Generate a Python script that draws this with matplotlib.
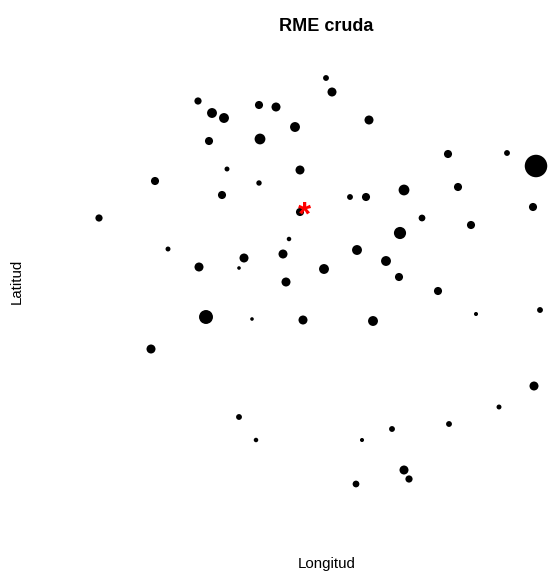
import matplotlib.pyplot as plt

# Posiciones de los municipios (unidades del dibujo) y RME cruda
longitud = [198, 212, 224, 259, 276, 295, 209, 260, 227, 300, 155, 259, 222, 99, 300,
            326, 332, 369, 448, 507, 536, 458, 404, 366, 350, 533, 422, 471, 400,
            168, 289, 244, 283, 199, 239, 286, 206, 252, 303, 151,
            357, 386, 324, 399, 438, 476, 540, 373,
            534, 499, 239, 449, 392, 256, 362, 404, 409, 356]
latitud = [471, 459, 454, 467, 465, 445, 431, 433, 403, 402, 391, 389, 377, 354, 360,
           494, 480, 452, 418, 419, 406, 385, 382, 375, 375, 365, 354, 347, 339,
           323, 333, 314, 318, 305, 304, 290, 255, 253, 252, 223,
           322, 311, 303, 295, 281, 258, 262, 251,
           186, 165, 155, 148, 143, 132, 132, 102, 93, 88]
rme = [0.8, 1.1, 1.1, 0.9, 1.0, 1.1, 0.9, 1.2, 0.55, 1.0, 0.9, 0.6, 0.9, 0.8, 0.9,
       0.65, 1.0, 1.0, 0.9, 0.65, 2.5, 0.9, 1.2, 0.9, 0.65, 0.9, 0.75, 0.9, 1.35,
       0.55, 0.5, 1.0, 1.0, 1.0, 0.4, 1.0, 1.55, 0.4, 1.0, 1.0,
       1.1, 1.1, 1.1, 0.9, 0.9, 0.45, 0.65, 1.1,
       1.0, 0.55, 0.65, 0.65, 0.65, 0.5, 0.45, 1.0, 0.8, 0.75]

# Punto de referencia (estrella roja)
ref_lon = [304]
ref_lat = [356]

fig = plt.figure(figsize=(5.51, 5.72), dpi=100)
ax = fig.add_axes([0, 0, 1, 1])
ax.set_xlim(0, 551)
ax.set_ylim(0, 572)
ax.axis('off')

# diametro en pixeles ~ 9 * rme ; s en puntos^2 (1 px = 0.72 pt)
tam = [(9 * r * 0.72) ** 2 for r in rme]
ax.scatter(longitud, latitud, s=tam, c='black', edgecolors='none')
ax.text(ref_lon[0], ref_lat[0], '*', color='red', fontsize=24, fontweight='bold',
        ha='center', va='center', family='Liberation Sans')

fig.text(326 / 551, 1 - 31 / 572, 'RME cruda', ha='center', va='baseline',
         fontsize=13, fontweight='bold', family='Liberation Sans')
fig.text(327 / 551, 1 - 568 / 572, 'Longitud', ha='center', va='baseline',
         fontsize=10.8, family='Liberation Sans')
fig.text(17 / 551, 1 - 281 / 572, 'Latitud', ha='center', va='center',
         rotation=90, fontsize=10.8, family='Liberation Sans')

fig.savefig('out.png', dpi=100)
